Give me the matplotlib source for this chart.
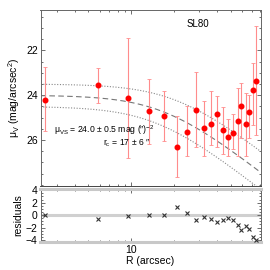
import numpy as np
import matplotlib
matplotlib.use("Agg")
import matplotlib.pyplot as plt
from matplotlib.ticker import MultipleLocator, NullFormatter, FixedLocator, FuncFormatter

plt.rcParams['font.family'] = ['Liberation Sans', 'DejaVu Sans']
plt.rcParams['mathtext.default'] = 'regular'

# data
R = [2.47, 5.79, 9.52, 13.4, 17.1, 21.0, 24.7, 28.7, 32.4, 36.4,
     40.3, 44.1, 48.2, 52.0, 56.1, 59.5, 63.8, 67.4, 71.5, 75.5]
mu = [24.20, 23.56, 24.12, 24.72, 24.91, 26.30, 25.62, 24.64, 25.46, 25.30,
      24.86, 25.55, 25.87, 25.68, 25.13, 24.47, 25.28, 24.74, 23.77, 23.36]
err_up = [1.45, 0.77, 2.69, 1.44, 1.09, 1.36, 1.12, 1.67, 1.22, 1.47,
          0.84, 1.04, 0.83, 0.86, 1.45, 1.01, 1.38, 0.76, 1.20, 2.45]
err_down = [1.38, 0.80, 2.67, 1.44, 1.11, 1.34, 1.10, 1.66, 1.27, 0.90,
            1.47, 1.07, 0.85, 0.74, 1.60, 1.46, 1.41, 1.19, 1.54, 2.40]
resid = [0.0, -0.6, -0.2, 0.1, 0.1, 1.27, 0.4, -0.8, -0.27, -0.63,
         -1.17, -0.75, -0.53, -0.85, -1.6, -2.4, -1.7, -2.2, -3.55, -4.0]

# fit parameters (mu_vs, r_c) and envelope
mu_vs, r_c = 24.0, 17.0
upper = (23.5, 21.0)
lower = (24.5, 15.0)


def profile(r, m0, rc):
    return m0 + 2.5 * np.log10(1 + (r / rc) ** 2)


fig = plt.figure(figsize=(2.7, 2.7), dpi=100)
ax = fig.add_axes([0.15, 0.311, 0.815, 0.652])
axr = fig.add_axes([0.15, 0.104, 0.815, 0.196])

rr = np.logspace(np.log10(2.3), np.log10(81), 200)
ax.plot(rr, profile(rr, mu_vs, r_c), ls=(0, (5, 3)), color='#777777', lw=0.8)
ax.plot(rr, profile(rr, *upper), ls=(0, (1, 1.5)), color='#888888', lw=0.8)
ax.plot(rr, profile(rr, *lower), ls=(0, (1, 1.5)), color='#888888', lw=0.8)

ax.errorbar(R, mu, yerr=[err_up, err_down], fmt='o', color='red', ms=3.3,
            ecolor='#ff8c8c', elinewidth=0.8, capsize=1.5, capthick=0.6, zorder=3)

ax.set_xscale('log')
ax.set_xlim(2.3, 81)
ax.set_ylim(28.05, 20.2)
ax.yaxis.set_major_locator(FixedLocator([22, 24, 26]))
ax.yaxis.set_minor_locator(MultipleLocator(0.5))
ax.xaxis.set_minor_formatter(NullFormatter())
ax.set_ylabel('μ$_V$ (mag/arcsec$^2$)', fontsize=7.5, labelpad=3)

ax.text(0.716, 0.92, 'SL80', transform=ax.transAxes, ha='center', va='center', fontsize=7)
ax.text(0.06, 0.30, 'μ$_{VS}$ = 24.0 ± 0.5 mag (″)$^{-2}$', transform=ax.transAxes,
        ha='left', va='baseline', fontsize=6.2)
ax.text(0.283, 0.232, 'r$_c$ = 17 ± 6 ″', transform=ax.transAxes,
        ha='left', va='baseline', fontsize=6.2)

axr.axhline(0, color='#d0d0d0', lw=2.2, zorder=1)
axr.plot(R, resid, 'x', color='#333333', ms=2.6, mew=0.8, zorder=3)
axr.set_xscale('log')
axr.set_xlim(2.3, 81)
axr.set_ylim(-4.3, 4.2)
axr.yaxis.set_major_locator(FixedLocator([-4, -2, 0, 2, 4]))
axr.yaxis.set_minor_locator(MultipleLocator(0.5))
axr.xaxis.set_minor_formatter(NullFormatter())
axr.set_xlabel('R (arcsec)', fontsize=7.5, labelpad=1)
axr.set_ylabel('residuals', fontsize=7.5, labelpad=2)
for s in ['top', 'bottom']:
    axr.spines[s].set_color('#c8c8c8')
    axr.spines[s].set_linewidth(2.2)

for a in (ax, axr):
    a.xaxis.set_major_formatter(FuncFormatter(
        lambda v, p: '%d' % v if abs(v - 10) < 1e-6 else ''))
    a.tick_params(which='both', direction='in', top=True, right=True,
                  labelsize=7.5, color='#555555', width=0.6, pad=2)
    a.tick_params(which='major', length=3)
    a.tick_params(which='minor', length=1.5)
    for s in ['left', 'right']:
        a.spines[s].set_color('#666666')
        a.spines[s].set_linewidth(0.7)
ax.tick_params(labelbottom=False)
ax.spines['top'].set_color('#666666')
ax.spines['bottom'].set_color('#444444')
for s in ['top', 'bottom']:
    ax.spines[s].set_linewidth(0.7)

fig.savefig('out.png', dpi=100)
